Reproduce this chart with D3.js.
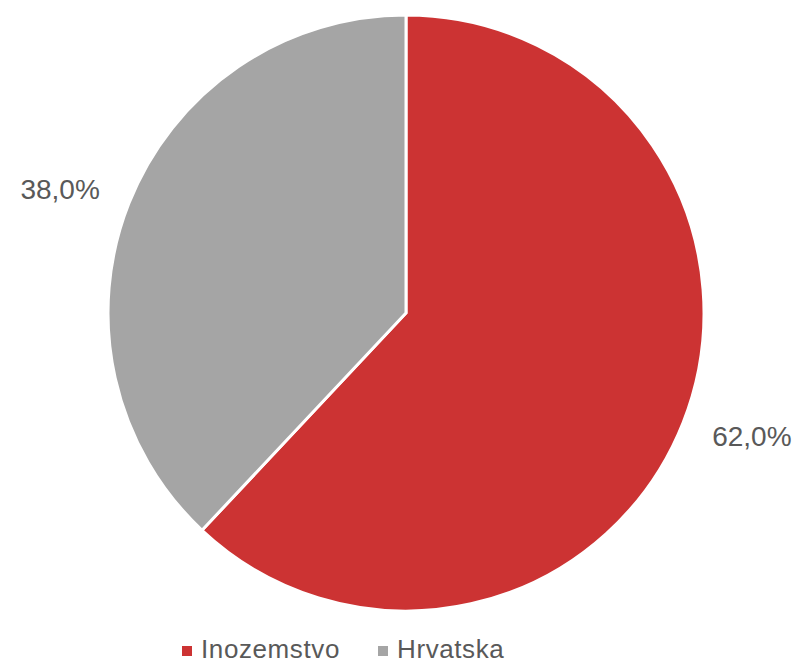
<!DOCTYPE html>
<html>
<head>
<meta charset="utf-8">
<script src="https://cdn.jsdelivr.net/npm/d3@7"></script>
<style>
  body { margin: 0; background: #fff; }
  text { font-family: "Liberation Sans", Arial, sans-serif; fill: #595959; }
</style>
</head>
<body>
<div id="chart"></div>
<script>
// données
const categories = ["Inozemstvo", "Hrvatska"];
const values = [62.0, 38.0];
const labels = ["62,0%", "38,0%"];
const colors = ["#CC3333", "#A5A5A5"];

const width = 794, height = 664;
const cx = 406, cy = 313, radius = 298;

const svg = d3.select("#chart").append("svg")
  .attr("width", width)
  .attr("height", height);

const pie = d3.pie().sort(null).value(d => d);
const arcs = pie(values);

const arc = d3.arc().innerRadius(0).outerRadius(radius);
const labelArc = d3.arc().innerRadius(372).outerRadius(372);

const g = svg.append("g").attr("transform", `translate(${cx},${cy})`);

g.selectAll("path")
  .data(arcs)
  .enter()
  .append("path")
  .attr("d", arc)
  .attr("fill", (d, i) => colors[i])
  .attr("stroke", "#fff")
  .attr("stroke-width", 3)
  .attr("stroke-linejoin", "miter");

// étiquettes de pourcentage (placées hors du disque)
g.selectAll(".lbl")
  .data(arcs)
  .enter()
  .append("text")
  .attr("class", "lbl")
  .attr("x", d => labelArc.centroid(d)[0])
  .attr("y", d => labelArc.centroid(d)[1] * 0.9)
  .attr("text-anchor", "middle")
  .attr("dominant-baseline", "central")
  .style("font-size", "28px")
  .text((d, i) => labels[i]);

// légende
const legendX = [182, 378];
const legend = svg.append("g");
categories.forEach((c, i) => {
  legend.append("rect")
    .attr("x", legendX[i]).attr("y", 646)
    .attr("width", 10).attr("height", 10)
    .attr("fill", colors[i]);
  legend.append("text")
    .attr("x", legendX[i] + 19).attr("y", 658)
    .style("font-size", "26px")
    .style("letter-spacing", "0.6px")
    .text(c);
});
</script>
</body>
</html>
